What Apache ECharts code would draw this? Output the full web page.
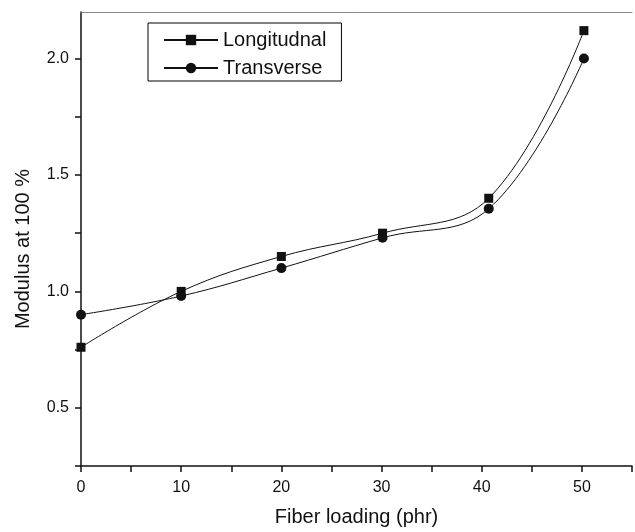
<!DOCTYPE html>
<html>
<head>
<meta charset="utf-8">
<script src="https://cdn.jsdelivr.net/npm/echarts@6/dist/echarts.min.js"></script>
<style>
html,body{margin:0;padding:0;background:#fff;}
#chart{width:635px;height:532px;}
</style>
</head>
<body>
<div id="chart"></div>
<script>
// Data
const seriesNames = ['Longitudnal', 'Transverse'];
const loading = [0, 10, 20, 30.1, 40.7, 50.2];           // Fiber loading (phr), as plotted
const longitudinal = [0.76, 1.00, 1.15, 1.25, 1.40, 2.12];
const transverse   = [0.90, 0.98, 1.10, 1.23, 1.355, 2.00];
const xTickLabels = [0, 10, 20, 30, 40, 50];
const yTickLabels = [0.5, 1.0, 1.5, 2.0];
const yTicks = [0.25, 0.5, 0.75, 1.0, 1.25, 1.5, 1.75, 2.0];

const font = '"Liberation Sans", Arial, Helvetica, sans-serif';
const pairs = ys => loading.map((x, i) => [x, ys[i]]);

const chart = echarts.init(document.getElementById('chart'), null, {renderer: 'canvas'});
chart.setOption({
  animation: false,
  backgroundColor: '#fff',
  grid: {left: 81, right: 0, top: 12, bottom: 65, containLabel: false},
  legend: {
    orient: 'vertical',
    left: 148, top: 23,
    padding: [7, 15, 3, 15],
    itemGap: 8,
    itemWidth: 54, itemHeight: 13,
    borderColor: '#000', borderWidth: 1,
    backgroundColor: '#fff',
    textStyle: {fontFamily: font, fontSize: 20, color: '#111'},
    data: seriesNames
  },
  xAxis: [{
    type: 'value', min: 0, max: 55, interval: 5,
    name: 'Fiber loading (phr)', nameLocation: 'middle', nameGap: 41,
    nameTextStyle: {fontFamily: font, fontSize: 20, color: '#111'},
    axisLine: {show: true, onZero: false, lineStyle: {color: '#111', width: 1.5}},
    axisTick: {show: true, inside: false, length: 6, lineStyle: {color: '#111', width: 1.5}},
    axisLabel: {
      margin: 14, fontFamily: font, fontSize: 16, color: '#111',
      formatter: v => xTickLabels.includes(Math.round(v * 100) / 100) ? String(v) : ''
    },
    splitLine: {show: false}
  }, {
    type: 'value', min: 0, max: 55, position: 'top',
    axisLine: {show: true, lineStyle: {color: '#888', width: 1}},
    axisTick: {show: false}, axisLabel: {show: false}, splitLine: {show: false}
  }],
  yAxis: {
    type: 'value', min: 0.25, max: 2.2, interval: 0.25,
    name: 'Modulus at 100 %', nameLocation: 'middle', nameGap: 48,
    nameTextStyle: {fontFamily: font, fontSize: 20, color: '#111', padding: [0, 20, 0, 0]},
    axisLine: {show: true, onZero: false, lineStyle: {color: '#111', width: 1.5}},
    axisTick: {show: true, inside: false, length: 6, customValues: yTicks, lineStyle: {color: '#111', width: 1.5}},
    axisLabel: {
      margin: 12, fontFamily: font, fontSize: 16, color: '#111',
      customValues: yTickLabels,
      formatter: v => (Math.round(v * 100) / 100).toFixed(1)
    },
    splitLine: {show: false}
  },
  series: [{
    name: seriesNames[0], type: 'line', data: pairs(longitudinal),
    smooth: 0.4, symbol: 'rect', symbolSize: 9,
    lineStyle: {color: '#111', width: 1},
    itemStyle: {color: '#111'},
    clip: false
  }, {
    name: seriesNames[1], type: 'line', data: pairs(transverse),
    smooth: 0.4, symbol: 'circle', symbolSize: 10,
    lineStyle: {color: '#111', width: 1},
    itemStyle: {color: '#111'},
    clip: false
  }]
});
</script>
</body>
</html>
